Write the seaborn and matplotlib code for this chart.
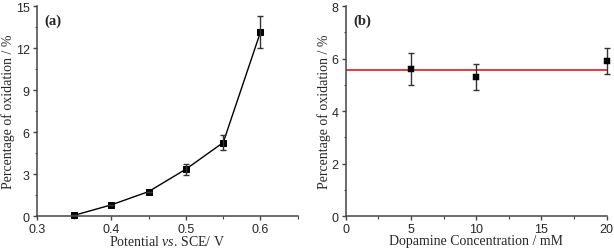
import numpy as np
import pandas as pd
import seaborn as sns
import matplotlib.pyplot as plt
from matplotlib.ticker import MultipleLocator, AutoMinorLocator

# panel (a): oxidation vs potential
potential = [0.35, 0.40, 0.45, 0.50, 0.55, 0.60]
ox_a = [0.05, 0.80, 1.75, 3.35, 5.25, 13.15]
err_a = [0.0, 0.0, 0.0, 0.40, 0.55, 1.15]

# panel (b): oxidation vs dopamine concentration
conc = [5, 10, 20]
ox_b = [5.6, 5.3, 5.9]
err_b = [0.6, 0.5, 0.5]
mean_b = 5.55

sns.set_style("ticks")
plt.rcParams["font.family"] = "sans-serif"
plt.rcParams["font.sans-serif"] = ["Liberation Sans"]
plt.rcParams["mathtext.fontset"] = "custom"
plt.rcParams["mathtext.rm"] = "Liberation Serif"
plt.rcParams["mathtext.it"] = "Liberation Serif:italic"

fig = plt.figure(figsize=(6.14, 2.53), dpi=100)
ax1 = fig.add_axes([0.0598, 0.142, 0.4252, 0.830])
ax2 = fig.add_axes([0.563, 0.142, 0.425, 0.830])

df_a = pd.DataFrame({"x": potential, "y": ox_a})
df_b = pd.DataFrame({"x": conc, "y": ox_b})

sns.lineplot(data=df_a, x="x", y="y", ax=ax1, color="black", lw=1,
             marker="s", markersize=4, markeredgecolor="black", clip_on=False)
ax1.errorbar(potential, ox_a, yerr=err_a, fmt="none", ecolor="#333333",
             elinewidth=1, capsize=2, capthick=1)

ax2.axhline(mean_b, color="#e8383d", lw=1.4, zorder=1)
ax2.errorbar(conc, ox_b, yerr=err_b, fmt="none", ecolor="#333333",
             elinewidth=1, capsize=2, capthick=1, zorder=2, clip_on=False)
sns.scatterplot(data=df_b, x="x", y="y", ax=ax2, color="black", marker="s",
                s=18, edgecolor="black", zorder=3, clip_on=False)

ax1.set_xlim(0.3, 0.65)
ax1.set_ylim(0, 15)
ax1.xaxis.set_major_locator(MultipleLocator(0.1))
ax1.yaxis.set_major_locator(MultipleLocator(3))
ax2.set_xlim(0, 20)
ax2.set_ylim(0, 8)
ax2.xaxis.set_major_locator(MultipleLocator(5))
ax2.yaxis.set_major_locator(MultipleLocator(2))

serif = ["Liberation Serif", "DejaVu Serif"]
ax1.set_xlabel(r"Potential $\mathit{vs}$. SCE/ V", family=serif, fontsize=10,
               labelpad=-0.5)
ax2.set_xlabel("Dopamine Concentration / mM", family=serif, fontsize=10,
               labelpad=-0.5)
for ax, tag in [(ax1, "(a)"), (ax2, "(b)")]:
    ax.set_ylabel("Percentage of oxidation / %", family=serif, fontsize=10,
                  labelpad=0.5)
    ax.text(0.03, 0.965, tag, transform=ax.transAxes, family=serif,
            fontweight="bold", fontsize=10.5, va="top", ha="left")
    ax.xaxis.set_minor_locator(AutoMinorLocator(2))
    ax.yaxis.set_minor_locator(AutoMinorLocator(2))
    ax.tick_params(which="major", length=3, width=1, color="#444444",
                   labelsize=9, pad=2)
    ax.tick_params(which="minor", length=1.8, width=0.8, color="#444444")
    for s in ["left", "bottom"]:
        ax.spines[s].set_color("#444444")
        ax.spines[s].set_linewidth(1.1)
    for s in ["top", "right"]:
        ax.spines[s].set_visible(False)

fig.savefig("out.png", dpi=100)
plt.close()
